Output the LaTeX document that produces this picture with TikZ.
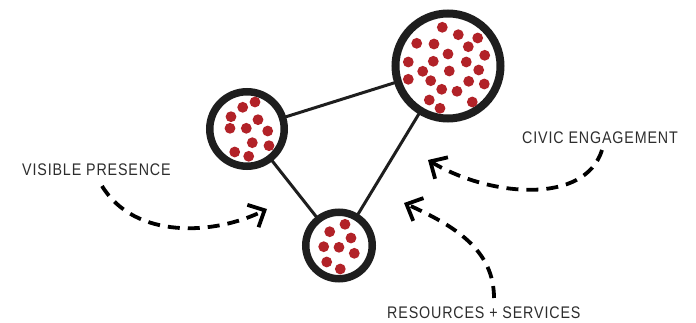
\documentclass[tikz,border=0pt]{standalone}
\usepackage{fontspec}
\setmainfont{Liberation Sans}[LetterSpace=6]
\usetikzlibrary{arrows.meta}
\definecolor{dotred}{RGB}{178,34,40}
\definecolor{ink}{RGB}{30,30,30}
\definecolor{txt}{RGB}{45,45,45}
\tikzset{
  ring/.style={circle, draw=ink, line width=7.5pt, inner sep=0pt, fill=white},
  link/.style={draw=ink, line width=3pt},
  flow/.style={draw=black, line width=3.8pt, dash pattern=on 12pt off 8pt,
    -{Straight Barb[length=13pt,width=25pt,line width=3.8pt]}},
  lbl/.style={inner sep=0pt, anchor=base west, text=txt,
    font=\fontsize{16.8}{18}\selectfont},
  dot/.style={fill=dotred}
}
\newcommand{\lab}[1]{\scalebox{0.85}[1]{#1}}
\begin{document}
\begin{tikzpicture}[x=1pt,y=-1pt]
\useasboundingbox (0,0) rectangle (696,323);
% links
\coordinate (cl) at (247,129);
\coordinate (cb) at (448,66);
\coordinate (cs) at (339,245.5);
\draw[link] (cl) -- (cb);
\draw[link] (cl) -- (cs);
\draw[link] (cs) -- (cb);
% rings
\node[ring, minimum size=74.5pt] (left) at (cl) {};
\node[ring, minimum size=105pt, line width=8pt] (big) at (cb) {};
\node[ring, minimum size=66.5pt] (small) at (cs) {};
% dots big
\foreach \x/\y in {442.3/27.3, 458.3/34.7, 477.7/38, 416.7/43.3, 434/44, 468.3/46.7,
  448/54, 484.7/55.3, 408.3/62, 433.3/61.3, 466.3/62, 422.7/71.3, 449.3/71, 478.7/70,
  408.3/79.3, 430.7/80.7, 468.7/81.3, 484.3/84, 441.7/89.3, 457/91.3, 429.3/100,
  472.3/102, 440/108.3}
  \fill[dot] (\x,\y) circle (5.4pt);
% dots left
\foreach \x/\y in {255/102, 242.7/107.3, 231/116.7, 258/119.7, 230/128.3, 246.3/128.3,
  267.7/131, 252.3/142.7, 269/145.7, 234.7/152, 248.7/156.3}
  \fill[dot] (\x,\y) circle (5.4pt);
% dots small
\foreach \x/\y in {345/224.3, 329.7/231.7, 351/238, 323.7/246.7, 339/247.3,
  354.3/253.3, 326.7/262, 340.3/269}
  \fill[dot] (\x,\y) circle (5.4pt);
% labels
\node[lbl] (vis) at (22,175.5) {\lab{VISIBLE PRESENCE}};
\node[lbl] (civ) at (522,143.3) {\lab{CIVIC ENGAGEMENT}};
\node[lbl] (res) at (387,318) {\lab{RESOURCES + SERVICES}};
% arrows
\coordinate (a1s) at (102,186);
\coordinate (a1e) at (267,209);
\coordinate (a2s) at (602,150);
\coordinate (a2e) at (428,160);
\coordinate (a3s) at (494,298);
\coordinate (a3e) at (404,203);
\draw[flow] (a1s) .. controls (135,240) and (215,235) .. (a1e);
\draw[flow] (a2s) .. controls (585,205) and (490,197) .. (a2e);
\draw[flow] (a3s) .. controls (494,250) and (455,226) .. (a3e);
\end{tikzpicture}
\end{document}
